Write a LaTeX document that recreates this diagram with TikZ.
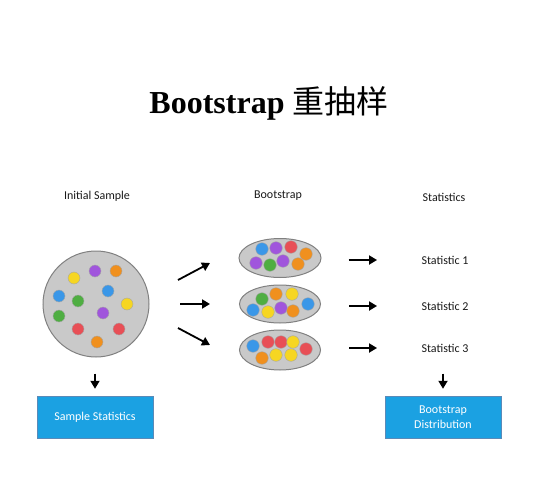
\documentclass[tikz,border=0pt]{standalone}
\usepackage{fontspec}
\setmainfont{Carlito}
\newfontfamily\titlefont{Liberation Serif}
\newfontfamily\cjk{Noto Sans CJK SC}
\usepackage{xcolor}
\usetikzlibrary{arrows.meta, shapes.geometric, positioning}

\definecolor{dotBlue}{HTML}{3A97E8}
\definecolor{dotPurple}{HTML}{A055DC}
\definecolor{dotRed}{HTML}{E84F56}
\definecolor{dotOrange}{HTML}{F0901E}
\definecolor{dotGreen}{HTML}{4FAE42}
\definecolor{dotYellow}{HTML}{F6D622}
\definecolor{poolGray}{HTML}{C9C9C9}
\definecolor{boxBlue}{HTML}{1BA1E2}
\definecolor{boxEdge}{HTML}{5A8AB8}

\begin{document}
\begin{tikzpicture}[
        x=1pt, y=-1pt,
        header/.style={font=\fontsize{12}{14}\selectfont, text=black!90},
        pool/.style={draw=black!50, fill=poolGray, line width=1pt, inner sep=0pt},
        ball/.style={draw=black!35, line width=0.4pt},
        result/.style={rectangle, draw=boxEdge, fill=boxBlue, text=white, minimum width=116pt, minimum height=42pt, align=center, font=\fontsize{12}{15}\selectfont},
        arrow/.style={line width=1.8pt, -{Triangle[length=8pt,width=9pt]}}
    ]
        \useasboundingbox (0,0) rectangle (538,500);

        % Title
        \node[font=\titlefont\bfseries\fontsize{32}{36}\selectfont] (title) at (269,103) {Bootstrap {\cjk\mdseries 重抽样}};

        % Column headers
        \node[header] (initHead) at (97,196) {Initial Sample};
        \node[header] (bootHead) at (278,196) {Bootstrap};
        \node[header] (statHead) at (444,197) {Statistics};

        % Initial sample
        \node[pool, circle, minimum size=106pt] (sample) at (96,304) {};
        \foreach \px/\py/\c in {74/278/dotYellow, 95/271/dotPurple, 116/271/dotOrange,
                59/296/dotBlue, 78/301/dotGreen, 108/291/dotBlue, 127/304/dotYellow,
                59/316/dotGreen, 103/313/dotPurple, 78/329/dotRed, 119/329/dotRed, 97/342/dotOrange}
            \filldraw[ball, fill=\c] (\px,\py) circle[radius=6pt];

        % Bootstrap resamples
        \node[pool, ellipse, minimum width=82pt, minimum height=39pt] (boot1) at (280,258) {};
        \node[pool, ellipse, minimum width=81pt, minimum height=38pt] (boot2) at (280,304) {};
        \node[pool, ellipse, minimum width=81pt, minimum height=40pt] (boot3) at (280,350) {};
        \foreach \px/\py/\c in {262/249/dotBlue, 276/248/dotPurple, 291/247/dotRed, 306/254/dotOrange,
                256/263/dotPurple, 270/265/dotGreen, 283/261/dotPurple, 298/264/dotOrange,
                262/299/dotGreen, 276/294/dotOrange, 292/294/dotYellow, 308/304/dotBlue,
                253/310/dotBlue, 268/312/dotYellow, 281/308/dotPurple, 293/311/dotOrange,
                253/346/dotBlue, 268/342/dotRed, 281/342/dotRed, 293/342/dotYellow,
                306/349/dotRed, 262/358/dotOrange, 276/355/dotYellow, 291/355/dotYellow}
            \filldraw[ball, fill=\c] (\px,\py) circle[radius=6.3pt];

        % Statistics
        \node[header] (stat1) at (445,260) {Statistic 1};
        \node[header] (stat2) at (445,306) {Statistic 2};
        \node[header] (stat3) at (445,348) {Statistic 3};

        % Result boxes
        \node[result] (sampleStats) at (95,417) {Sample Statistics};
        \node[result] (bootDist) at (443,417) {Bootstrap\\Distribution};

        % Fan out to resamples
        \coordinate (fanUpFrom) at (178,280);
        \coordinate (fanUpTo) at (210,263);
        \coordinate (fanMidFrom) at (180,304);
        \coordinate (fanMidTo) at (210,304);
        \coordinate (fanDownFrom) at (178,328);
        \coordinate (fanDownTo) at (210,345);
        \draw[arrow] (fanUpFrom) -- (fanUpTo);
        \draw[arrow] (fanMidFrom) -- (fanMidTo);
        \draw[arrow] (fanDownFrom) -- (fanDownTo);

        % Resamples to statistics
        \draw[arrow, shorten <=27pt, shorten >=41pt] (boot1.east |- stat1.west) -- (stat1.west);
        \draw[arrow, shorten <=28pt, shorten >=41pt] (boot2.east |- stat2.west) -- (stat2.west);
        \draw[arrow, shorten <=28pt, shorten >=41pt] (boot3.east |- stat3.west) -- (stat3.west);

        % Down to results
        \draw[arrow, shorten <=16pt, shorten >=7pt] (sampleStats.north |- sample.south) -- (sampleStats.north);
        \draw[arrow, shorten <=18pt, shorten >=7pt] (bootDist.north |- stat3.south) -- (bootDist.north);

    \end{tikzpicture}
\end{document}
